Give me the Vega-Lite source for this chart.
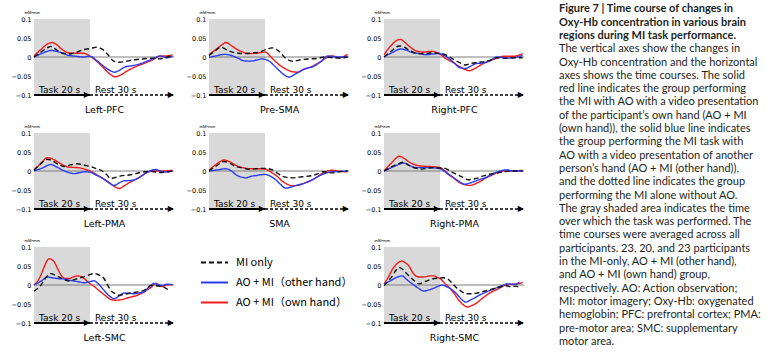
{
  "$schema": "https://vega.github.io/schema/vega-lite/v6.json",
  "padding": {"left": 11, "top": 3, "right": 0, "bottom": 0},
  "background": "white",
  "config": {"view": {"stroke": null}, "font": "DejaVu Sans", "axis": {"labelColor": "#000", "titleColor": "#000"}},
  "datasets": {
    "groups": [
      {"s": "MI", "series": "MI only"},
      {"s": "other", "series": "AO + MI（other hand）"},
      {"s": "own", "series": "AO + MI（own hand）"}
    ],
    "phases": [
      {"phase": "Task 20 s", "start": 0, "end": 20},
      {"phase": "Rest 30 s", "start": 20, "end": 50}
    ],
    "caption": [
      {"line": 1, "text": "Figure 7  |  Time course of changes in"},
      {"line": 2, "text": "Oxy-Hb concentration in various brain"},
      {"line": 3, "text": "regions during MI task performance."},
      {"line": 4, "text": "The vertical axes show the changes in"},
      {"line": 5, "text": "Oxy-Hb concentration and the horizontal"},
      {"line": 6, "text": "axes shows the time courses. The solid"},
      {"line": 7, "text": "red line indicates the group performing"},
      {"line": 8, "text": "the MI with AO with a video presentation"},
      {"line": 9, "text": "of the participant’s own hand (AO + MI"},
      {"line": 10, "text": "(own hand)), the solid blue line indicates"},
      {"line": 11, "text": "the group performing the MI task with"},
      {"line": 12, "text": "AO with a video presentation of another"},
      {"line": 13, "text": "person’s hand (AO + MI (other hand)),"},
      {"line": 14, "text": "and the dotted line indicates the group"},
      {"line": 15, "text": "performing the MI alone without AO."},
      {"line": 16, "text": "The gray shaded area indicates the time"},
      {"line": 17, "text": "over which the task was performed. The"},
      {"line": 18, "text": "time courses were averaged across all"},
      {"line": 19, "text": "participants. 23, 20, and 23 participants"},
      {"line": 20, "text": "in the MI-only, AO + MI (other hand),"},
      {"line": 21, "text": "and AO + MI (own hand) group,"},
      {"line": 22, "text": "respectively. AO: Action observation;"},
      {"line": 23, "text": "MI: motor imagery; Oxy-Hb: oxygenated"},
      {"line": 24, "text": "hemoglobin; PFC: prefrontal cortex; PMA:"},
      {"line": 25, "text": "pre-motor area; SMC: supplementary"},
      {"line": 26, "text": "motor area."}
    ],
    "curves": [
      {"panel":"Left-PFC","s":"own","t":0,"v":0.003},{"panel":"Left-PFC","s":"own","t":2.5,"v":0.02},{"panel":"Left-PFC","s":"own","t":5,"v":0.035},{"panel":"Left-PFC","s":"own","t":6.5,"v":0.038},{"panel":"Left-PFC","s":"own","t":8,"v":0.033},{"panel":"Left-PFC","s":"own","t":10,"v":0.02},{"panel":"Left-PFC","s":"own","t":12.5,"v":0.011},{"panel":"Left-PFC","s":"own","t":15,"v":0.01},{"panel":"Left-PFC","s":"own","t":17.5,"v":0.01},{"panel":"Left-PFC","s":"own","t":20,"v":0.002},{"panel":"Left-PFC","s":"own","t":22.5,"v":-0.012},{"panel":"Left-PFC","s":"own","t":25,"v":-0.03},{"panel":"Left-PFC","s":"own","t":27.5,"v":-0.047},{"panel":"Left-PFC","s":"own","t":29,"v":-0.052},{"panel":"Left-PFC","s":"own","t":31,"v":-0.047},{"panel":"Left-PFC","s":"own","t":33,"v":-0.038},{"panel":"Left-PFC","s":"own","t":35,"v":-0.03},{"panel":"Left-PFC","s":"own","t":37.5,"v":-0.022},{"panel":"Left-PFC","s":"own","t":40,"v":-0.015},{"panel":"Left-PFC","s":"own","t":42.5,"v":-0.007},{"panel":"Left-PFC","s":"own","t":45,"v":0.002},{"panel":"Left-PFC","s":"own","t":47.5,"v":0.003},{"panel":"Left-PFC","s":"own","t":49.5,"v":0.006},
      {"panel":"Left-PFC","s":"other","t":0,"v":0},{"panel":"Left-PFC","s":"other","t":3,"v":0.01},{"panel":"Left-PFC","s":"other","t":6,"v":0.017},{"panel":"Left-PFC","s":"other","t":8,"v":0.015},{"panel":"Left-PFC","s":"other","t":10,"v":0.011},{"panel":"Left-PFC","s":"other","t":12.5,"v":0.004},{"panel":"Left-PFC","s":"other","t":15,"v":0.002},{"panel":"Left-PFC","s":"other","t":17.5,"v":0},{"panel":"Left-PFC","s":"other","t":20,"v":0.002},{"panel":"Left-PFC","s":"other","t":22.5,"v":-0.01},{"panel":"Left-PFC","s":"other","t":25,"v":-0.025},{"panel":"Left-PFC","s":"other","t":27.5,"v":-0.037},{"panel":"Left-PFC","s":"other","t":28.8,"v":-0.04},{"panel":"Left-PFC","s":"other","t":30.5,"v":-0.035},{"panel":"Left-PFC","s":"other","t":32.5,"v":-0.026},{"panel":"Left-PFC","s":"other","t":35,"v":-0.023},{"panel":"Left-PFC","s":"other","t":37.5,"v":-0.019},{"panel":"Left-PFC","s":"other","t":40,"v":-0.012},{"panel":"Left-PFC","s":"other","t":42.5,"v":-0.005},{"panel":"Left-PFC","s":"other","t":45,"v":0.003},{"panel":"Left-PFC","s":"other","t":47.5,"v":-0.002},{"panel":"Left-PFC","s":"other","t":49.5,"v":0.002},
      {"panel":"Left-PFC","s":"MI","t":0,"v":0},{"panel":"Left-PFC","s":"MI","t":2.5,"v":0.013},{"panel":"Left-PFC","s":"MI","t":5,"v":0.025},{"panel":"Left-PFC","s":"MI","t":6,"v":0.028},{"panel":"Left-PFC","s":"MI","t":8,"v":0.019},{"panel":"Left-PFC","s":"MI","t":10,"v":0.01},{"panel":"Left-PFC","s":"MI","t":12.5,"v":0.008},{"panel":"Left-PFC","s":"MI","t":15,"v":0.012},{"panel":"Left-PFC","s":"MI","t":17.5,"v":0.019},{"panel":"Left-PFC","s":"MI","t":20,"v":0.022},{"panel":"Left-PFC","s":"MI","t":22.5,"v":0.026},{"panel":"Left-PFC","s":"MI","t":24.5,"v":0.02},{"panel":"Left-PFC","s":"MI","t":26.5,"v":0.005},{"panel":"Left-PFC","s":"MI","t":28.5,"v":-0.011},{"panel":"Left-PFC","s":"MI","t":30.5,"v":-0.014},{"panel":"Left-PFC","s":"MI","t":32.5,"v":-0.012},{"panel":"Left-PFC","s":"MI","t":35,"v":-0.008},{"panel":"Left-PFC","s":"MI","t":37.5,"v":-0.006},{"panel":"Left-PFC","s":"MI","t":40,"v":-0.004},{"panel":"Left-PFC","s":"MI","t":42.5,"v":-0.003},{"panel":"Left-PFC","s":"MI","t":45,"v":-0.005},{"panel":"Left-PFC","s":"MI","t":47.5,"v":0},{"panel":"Left-PFC","s":"MI","t":49.5,"v":0.004},

      {"panel":"Pre-SMA","s":"own","t":0,"v":0.006},{"panel":"Pre-SMA","s":"own","t":2.5,"v":0.02},{"panel":"Pre-SMA","s":"own","t":5,"v":0.034},{"panel":"Pre-SMA","s":"own","t":6,"v":0.038},{"panel":"Pre-SMA","s":"own","t":8,"v":0.03},{"panel":"Pre-SMA","s":"own","t":10.5,"v":0.018},{"panel":"Pre-SMA","s":"own","t":12.5,"v":0.012},{"panel":"Pre-SMA","s":"own","t":14.5,"v":0.009},{"panel":"Pre-SMA","s":"own","t":17,"v":0.01},{"panel":"Pre-SMA","s":"own","t":20,"v":0.013},{"panel":"Pre-SMA","s":"own","t":22.5,"v":-0.003},{"panel":"Pre-SMA","s":"own","t":25,"v":-0.02},{"panel":"Pre-SMA","s":"own","t":27.5,"v":-0.032},{"panel":"Pre-SMA","s":"own","t":30,"v":-0.039},{"panel":"Pre-SMA","s":"own","t":31.5,"v":-0.04},{"panel":"Pre-SMA","s":"own","t":34,"v":-0.032},{"panel":"Pre-SMA","s":"own","t":37,"v":-0.024},{"panel":"Pre-SMA","s":"own","t":39,"v":-0.016},{"panel":"Pre-SMA","s":"own","t":41.5,"v":-0.004},{"panel":"Pre-SMA","s":"own","t":44,"v":0.003},{"panel":"Pre-SMA","s":"own","t":46.5,"v":-0.002},{"panel":"Pre-SMA","s":"own","t":49.5,"v":0.007},
      {"panel":"Pre-SMA","s":"other","t":0,"v":-0.001},{"panel":"Pre-SMA","s":"other","t":2.5,"v":0.003},{"panel":"Pre-SMA","s":"other","t":5.5,"v":0.007},{"panel":"Pre-SMA","s":"other","t":8,"v":0.004},{"panel":"Pre-SMA","s":"other","t":10,"v":-0.002},{"panel":"Pre-SMA","s":"other","t":12.5,"v":-0.01},{"panel":"Pre-SMA","s":"other","t":14.5,"v":-0.011},{"panel":"Pre-SMA","s":"other","t":17,"v":-0.008},{"panel":"Pre-SMA","s":"other","t":19,"v":-0.005},{"panel":"Pre-SMA","s":"other","t":21.5,"v":-0.011},{"panel":"Pre-SMA","s":"other","t":24,"v":-0.028},{"panel":"Pre-SMA","s":"other","t":26.5,"v":-0.045},{"panel":"Pre-SMA","s":"other","t":28.5,"v":-0.053},{"panel":"Pre-SMA","s":"other","t":31,"v":-0.044},{"panel":"Pre-SMA","s":"other","t":34,"v":-0.032},{"panel":"Pre-SMA","s":"other","t":37.5,"v":-0.024},{"panel":"Pre-SMA","s":"other","t":40,"v":-0.012},{"panel":"Pre-SMA","s":"other","t":42.5,"v":0.003},{"panel":"Pre-SMA","s":"other","t":45,"v":0},{"panel":"Pre-SMA","s":"other","t":47.5,"v":0},{"panel":"Pre-SMA","s":"other","t":49.5,"v":0.002},
      {"panel":"Pre-SMA","s":"MI","t":0,"v":0.004},{"panel":"Pre-SMA","s":"MI","t":2.5,"v":0.018},{"panel":"Pre-SMA","s":"MI","t":4.2,"v":0.026},{"panel":"Pre-SMA","s":"MI","t":6,"v":0.02},{"panel":"Pre-SMA","s":"MI","t":8.3,"v":0.013},{"panel":"Pre-SMA","s":"MI","t":10.5,"v":0.01},{"panel":"Pre-SMA","s":"MI","t":13,"v":0.009},{"panel":"Pre-SMA","s":"MI","t":16,"v":0.011},{"panel":"Pre-SMA","s":"MI","t":18,"v":0.013},{"panel":"Pre-SMA","s":"MI","t":20.5,"v":0.02},{"panel":"Pre-SMA","s":"MI","t":22.5,"v":0.024},{"panel":"Pre-SMA","s":"MI","t":25,"v":0.015},{"panel":"Pre-SMA","s":"MI","t":27.5,"v":-0.004},{"panel":"Pre-SMA","s":"MI","t":30,"v":-0.011},{"panel":"Pre-SMA","s":"MI","t":33,"v":-0.007},{"panel":"Pre-SMA","s":"MI","t":36,"v":-0.005},{"panel":"Pre-SMA","s":"MI","t":38.5,"v":-0.004},{"panel":"Pre-SMA","s":"MI","t":41.5,"v":0},{"panel":"Pre-SMA","s":"MI","t":44,"v":-0.002},{"panel":"Pre-SMA","s":"MI","t":46.5,"v":-0.003},{"panel":"Pre-SMA","s":"MI","t":49.5,"v":0},

      {"panel":"Right-PFC","s":"own","t":0,"v":0.006},{"panel":"Right-PFC","s":"own","t":2.5,"v":0.03},{"panel":"Right-PFC","s":"own","t":5,"v":0.045},{"panel":"Right-PFC","s":"own","t":6,"v":0.046},{"panel":"Right-PFC","s":"own","t":7.5,"v":0.038},{"panel":"Right-PFC","s":"own","t":9.5,"v":0.025},{"panel":"Right-PFC","s":"own","t":11.5,"v":0.016},{"panel":"Right-PFC","s":"own","t":14,"v":0.013},{"panel":"Right-PFC","s":"own","t":17,"v":0.015},{"panel":"Right-PFC","s":"own","t":20,"v":0.007},{"panel":"Right-PFC","s":"own","t":22,"v":-0.004},{"panel":"Right-PFC","s":"own","t":24.5,"v":-0.014},{"panel":"Right-PFC","s":"own","t":27,"v":-0.025},{"panel":"Right-PFC","s":"own","t":29,"v":-0.033},{"panel":"Right-PFC","s":"own","t":30.5,"v":-0.036},{"panel":"Right-PFC","s":"own","t":32.5,"v":-0.03},{"panel":"Right-PFC","s":"own","t":35,"v":-0.019},{"panel":"Right-PFC","s":"own","t":37.5,"v":-0.011},{"panel":"Right-PFC","s":"own","t":40,"v":-0.004},{"panel":"Right-PFC","s":"own","t":43,"v":0.002},{"panel":"Right-PFC","s":"own","t":46.5,"v":0.002},{"panel":"Right-PFC","s":"own","t":49.5,"v":0.009},
      {"panel":"Right-PFC","s":"other","t":0,"v":0},{"panel":"Right-PFC","s":"other","t":3,"v":0.012},{"panel":"Right-PFC","s":"other","t":6,"v":0.021},{"panel":"Right-PFC","s":"other","t":8,"v":0.018},{"panel":"Right-PFC","s":"other","t":10,"v":0.012},{"panel":"Right-PFC","s":"other","t":12.5,"v":0.009},{"panel":"Right-PFC","s":"other","t":15,"v":0.006},{"panel":"Right-PFC","s":"other","t":17.5,"v":0.008},{"panel":"Right-PFC","s":"other","t":19.5,"v":0.009},{"panel":"Right-PFC","s":"other","t":23,"v":-0.003},{"panel":"Right-PFC","s":"other","t":25,"v":-0.015},{"panel":"Right-PFC","s":"other","t":27,"v":-0.028},{"panel":"Right-PFC","s":"other","t":29,"v":-0.03},{"panel":"Right-PFC","s":"other","t":31,"v":-0.024},{"panel":"Right-PFC","s":"other","t":33,"v":-0.017},{"panel":"Right-PFC","s":"other","t":35,"v":-0.016},{"panel":"Right-PFC","s":"other","t":37.5,"v":-0.011},{"panel":"Right-PFC","s":"other","t":40.5,"v":0},{"panel":"Right-PFC","s":"other","t":44,"v":-0.003},{"panel":"Right-PFC","s":"other","t":47,"v":-0.001},{"panel":"Right-PFC","s":"other","t":49.5,"v":0.004},
      {"panel":"Right-PFC","s":"MI","t":0,"v":0},{"panel":"Right-PFC","s":"MI","t":2.5,"v":0.015},{"panel":"Right-PFC","s":"MI","t":5.5,"v":0.029},{"panel":"Right-PFC","s":"MI","t":7.5,"v":0.025},{"panel":"Right-PFC","s":"MI","t":9,"v":0.018},{"panel":"Right-PFC","s":"MI","t":12,"v":0.009},{"panel":"Right-PFC","s":"MI","t":14.5,"v":0.009},{"panel":"Right-PFC","s":"MI","t":17,"v":0.011},{"panel":"Right-PFC","s":"MI","t":20.5,"v":0.009},{"panel":"Right-PFC","s":"MI","t":22.5,"v":0.004},{"panel":"Right-PFC","s":"MI","t":24.5,"v":-0.005},{"panel":"Right-PFC","s":"MI","t":27,"v":-0.015},{"panel":"Right-PFC","s":"MI","t":29,"v":-0.021},{"panel":"Right-PFC","s":"MI","t":31,"v":-0.017},{"panel":"Right-PFC","s":"MI","t":33.5,"v":-0.014},{"panel":"Right-PFC","s":"MI","t":36,"v":-0.012},{"panel":"Right-PFC","s":"MI","t":38,"v":-0.008},{"panel":"Right-PFC","s":"MI","t":40,"v":-0.002},{"panel":"Right-PFC","s":"MI","t":43,"v":-0.003},{"panel":"Right-PFC","s":"MI","t":46,"v":-0.002},{"panel":"Right-PFC","s":"MI","t":49.5,"v":-0.002},

      {"panel":"Left-PMA","s":"own","t":0,"v":0.002},{"panel":"Left-PMA","s":"own","t":2.5,"v":0.02},{"panel":"Left-PMA","s":"own","t":4.8,"v":0.035},{"panel":"Left-PMA","s":"own","t":6.5,"v":0.032},{"panel":"Left-PMA","s":"own","t":8.5,"v":0.024},{"panel":"Left-PMA","s":"own","t":10.5,"v":0.015},{"panel":"Left-PMA","s":"own","t":12.5,"v":0.01},{"panel":"Left-PMA","s":"own","t":15.5,"v":0.009},{"panel":"Left-PMA","s":"own","t":18,"v":0.005},{"panel":"Left-PMA","s":"own","t":20,"v":0},{"panel":"Left-PMA","s":"own","t":22,"v":-0.008},{"panel":"Left-PMA","s":"own","t":24,"v":-0.017},{"panel":"Left-PMA","s":"own","t":26,"v":-0.026},{"panel":"Left-PMA","s":"own","t":28,"v":-0.037},{"panel":"Left-PMA","s":"own","t":30.4,"v":-0.046},{"panel":"Left-PMA","s":"own","t":32,"v":-0.04},{"panel":"Left-PMA","s":"own","t":33.5,"v":-0.033},{"panel":"Left-PMA","s":"own","t":35.5,"v":-0.025},{"panel":"Left-PMA","s":"own","t":37,"v":-0.019},{"panel":"Left-PMA","s":"own","t":39,"v":-0.01},{"panel":"Left-PMA","s":"own","t":40.5,"v":-0.003},{"panel":"Left-PMA","s":"own","t":43,"v":0},{"panel":"Left-PMA","s":"own","t":46,"v":0},{"panel":"Left-PMA","s":"own","t":49.5,"v":0.002},
      {"panel":"Left-PMA","s":"other","t":0,"v":0},{"panel":"Left-PMA","s":"other","t":3,"v":0.008},{"panel":"Left-PMA","s":"other","t":6,"v":0.017},{"panel":"Left-PMA","s":"other","t":8,"v":0.011},{"panel":"Left-PMA","s":"other","t":9.5,"v":0.005},{"panel":"Left-PMA","s":"other","t":12,"v":-0.003},{"panel":"Left-PMA","s":"other","t":14.3,"v":-0.007},{"panel":"Left-PMA","s":"other","t":16.5,"v":-0.004},{"panel":"Left-PMA","s":"other","t":18.5,"v":-0.002},{"panel":"Left-PMA","s":"other","t":20,"v":-0.003},{"panel":"Left-PMA","s":"other","t":22,"v":-0.01},{"panel":"Left-PMA","s":"other","t":24,"v":-0.017},{"panel":"Left-PMA","s":"other","t":26.5,"v":-0.03},{"panel":"Left-PMA","s":"other","t":28.6,"v":-0.038},{"panel":"Left-PMA","s":"other","t":30.5,"v":-0.031},{"panel":"Left-PMA","s":"other","t":32,"v":-0.026},{"panel":"Left-PMA","s":"other","t":34.5,"v":-0.025},{"panel":"Left-PMA","s":"other","t":37,"v":-0.02},{"panel":"Left-PMA","s":"other","t":39,"v":-0.01},{"panel":"Left-PMA","s":"other","t":40.5,"v":-0.003},{"panel":"Left-PMA","s":"other","t":43.5,"v":0.004},{"panel":"Left-PMA","s":"other","t":46.4,"v":-0.003},{"panel":"Left-PMA","s":"other","t":49.5,"v":0},
      {"panel":"Left-PMA","s":"MI","t":0,"v":0.002},{"panel":"Left-PMA","s":"MI","t":2.5,"v":0.02},{"panel":"Left-PMA","s":"MI","t":4.8,"v":0.031},{"panel":"Left-PMA","s":"MI","t":7,"v":0.025},{"panel":"Left-PMA","s":"MI","t":9,"v":0.016},{"panel":"Left-PMA","s":"MI","t":10.7,"v":0.012},{"panel":"Left-PMA","s":"MI","t":13,"v":0.016},{"panel":"Left-PMA","s":"MI","t":15.5,"v":0.019},{"panel":"Left-PMA","s":"MI","t":18,"v":0.015},{"panel":"Left-PMA","s":"MI","t":20,"v":0.012},{"panel":"Left-PMA","s":"MI","t":22,"v":0.007},{"panel":"Left-PMA","s":"MI","t":24,"v":0.002},{"panel":"Left-PMA","s":"MI","t":26,"v":-0.01},{"panel":"Left-PMA","s":"MI","t":27.4,"v":-0.02},{"panel":"Left-PMA","s":"MI","t":29,"v":-0.017},{"panel":"Left-PMA","s":"MI","t":31,"v":-0.013},{"panel":"Left-PMA","s":"MI","t":34.5,"v":-0.01},{"panel":"Left-PMA","s":"MI","t":38,"v":-0.004},{"panel":"Left-PMA","s":"MI","t":41.7,"v":-0.001},{"panel":"Left-PMA","s":"MI","t":45,"v":-0.004},{"panel":"Left-PMA","s":"MI","t":49.5,"v":0},

      {"panel":"SMA","s":"own","t":0,"v":0.002},{"panel":"SMA","s":"own","t":2.5,"v":0.017},{"panel":"SMA","s":"own","t":5.4,"v":0.029},{"panel":"SMA","s":"own","t":7.5,"v":0.024},{"panel":"SMA","s":"own","t":9.5,"v":0.015},{"panel":"SMA","s":"own","t":12,"v":0.009},{"panel":"SMA","s":"own","t":14.3,"v":0.006},{"panel":"SMA","s":"own","t":17,"v":0.006},{"panel":"SMA","s":"own","t":19,"v":0.006},{"panel":"SMA","s":"own","t":20.5,"v":0.004},{"panel":"SMA","s":"own","t":22.6,"v":-0.005},{"panel":"SMA","s":"own","t":24.5,"v":-0.015},{"panel":"SMA","s":"own","t":26.2,"v":-0.027},{"panel":"SMA","s":"own","t":28,"v":-0.035},{"panel":"SMA","s":"own","t":29.8,"v":-0.039},{"panel":"SMA","s":"own","t":31.5,"v":-0.038},{"panel":"SMA","s":"own","t":33.3,"v":-0.034},{"panel":"SMA","s":"own","t":35,"v":-0.029},{"panel":"SMA","s":"own","t":37,"v":-0.023},{"panel":"SMA","s":"own","t":39,"v":-0.014},{"panel":"SMA","s":"own","t":40.5,"v":-0.006},{"panel":"SMA","s":"own","t":42.5,"v":0},{"panel":"SMA","s":"own","t":44,"v":0.002},{"panel":"SMA","s":"own","t":46.5,"v":-0.001},{"panel":"SMA","s":"own","t":49.5,"v":-0.002},
      {"panel":"SMA","s":"other","t":0,"v":0},{"panel":"SMA","s":"other","t":3,"v":0.003},{"panel":"SMA","s":"other","t":6,"v":0.006},{"panel":"SMA","s":"other","t":8,"v":0},{"panel":"SMA","s":"other","t":9.5,"v":-0.009},{"panel":"SMA","s":"other","t":11.5,"v":-0.016},{"panel":"SMA","s":"other","t":13.1,"v":-0.018},{"panel":"SMA","s":"other","t":15,"v":-0.014},{"panel":"SMA","s":"other","t":16.7,"v":-0.012},{"panel":"SMA","s":"other","t":18.5,"v":-0.01},{"panel":"SMA","s":"other","t":20,"v":-0.009},{"panel":"SMA","s":"other","t":22,"v":-0.014},{"panel":"SMA","s":"other","t":23.8,"v":-0.023},{"panel":"SMA","s":"other","t":25.5,"v":-0.035},{"panel":"SMA","s":"other","t":27.4,"v":-0.045},{"panel":"SMA","s":"other","t":29,"v":-0.043},{"panel":"SMA","s":"other","t":30.5,"v":-0.039},{"panel":"SMA","s":"other","t":33.3,"v":-0.034},{"panel":"SMA","s":"other","t":36.9,"v":-0.023},{"panel":"SMA","s":"other","t":38.5,"v":-0.016},{"panel":"SMA","s":"other","t":40.5,"v":-0.009},{"panel":"SMA","s":"other","t":44,"v":-0.002},{"panel":"SMA","s":"other","t":46.5,"v":-0.001},{"panel":"SMA","s":"other","t":49.5,"v":0},
      {"panel":"SMA","s":"MI","t":0,"v":0},{"panel":"SMA","s":"MI","t":2.5,"v":0.013},{"panel":"SMA","s":"MI","t":5.4,"v":0.025},{"panel":"SMA","s":"MI","t":7.5,"v":0.02},{"panel":"SMA","s":"MI","t":9.5,"v":0.012},{"panel":"SMA","s":"MI","t":12,"v":0.008},{"panel":"SMA","s":"MI","t":14.3,"v":0.005},{"panel":"SMA","s":"MI","t":17,"v":0.006},{"panel":"SMA","s":"MI","t":20,"v":0.007},{"panel":"SMA","s":"MI","t":22.6,"v":0.003},{"panel":"SMA","s":"MI","t":24.5,"v":-0.006},{"panel":"SMA","s":"MI","t":26.2,"v":-0.014},{"panel":"SMA","s":"MI","t":28,"v":-0.017},{"panel":"SMA","s":"MI","t":29.8,"v":-0.018},{"panel":"SMA","s":"MI","t":33.3,"v":-0.015},{"panel":"SMA","s":"MI","t":36.9,"v":-0.012},{"panel":"SMA","s":"MI","t":39,"v":-0.007},{"panel":"SMA","s":"MI","t":40.5,"v":-0.002},{"panel":"SMA","s":"MI","t":42,"v":-0.003},{"panel":"SMA","s":"MI","t":44,"v":-0.005},{"panel":"SMA","s":"MI","t":46.5,"v":-0.002},{"panel":"SMA","s":"MI","t":49.5,"v":0},

      {"panel":"Right-PMA","s":"own","t":0,"v":0},{"panel":"Right-PMA","s":"own","t":2.5,"v":0.02},{"panel":"Right-PMA","s":"own","t":4.5,"v":0.035},{"panel":"Right-PMA","s":"own","t":5.4,"v":0.039},{"panel":"Right-PMA","s":"own","t":7,"v":0.034},{"panel":"Right-PMA","s":"own","t":8.7,"v":0.025},{"panel":"Right-PMA","s":"own","t":10.5,"v":0.018},{"panel":"Right-PMA","s":"own","t":12.3,"v":0.014},{"panel":"Right-PMA","s":"own","t":15.8,"v":0.012},{"panel":"Right-PMA","s":"own","t":18,"v":0.011},{"panel":"Right-PMA","s":"own","t":20,"v":0.009},{"panel":"Right-PMA","s":"own","t":21.5,"v":0.002},{"panel":"Right-PMA","s":"own","t":23,"v":-0.009},{"panel":"Right-PMA","s":"own","t":25,"v":-0.019},{"panel":"Right-PMA","s":"own","t":26.6,"v":-0.029},{"panel":"Right-PMA","s":"own","t":28.5,"v":-0.035},{"panel":"Right-PMA","s":"own","t":30.7,"v":-0.038},{"panel":"Right-PMA","s":"own","t":32.5,"v":-0.034},{"panel":"Right-PMA","s":"own","t":34.9,"v":-0.025},{"panel":"Right-PMA","s":"own","t":36.5,"v":-0.018},{"panel":"Right-PMA","s":"own","t":38.5,"v":-0.011},{"panel":"Right-PMA","s":"own","t":40.5,"v":-0.004},{"panel":"Right-PMA","s":"own","t":42,"v":0},{"panel":"Right-PMA","s":"own","t":45.6,"v":0},{"panel":"Right-PMA","s":"own","t":49.5,"v":0.002},
      {"panel":"Right-PMA","s":"other","t":0,"v":0},{"panel":"Right-PMA","s":"other","t":3,"v":0.01},{"panel":"Right-PMA","s":"other","t":5.5,"v":0.018},{"panel":"Right-PMA","s":"other","t":6.9,"v":0.021},{"panel":"Right-PMA","s":"other","t":9,"v":0.015},{"panel":"Right-PMA","s":"other","t":11.1,"v":0.009},{"panel":"Right-PMA","s":"other","t":13.5,"v":0.009},{"panel":"Right-PMA","s":"other","t":15.8,"v":0.009},{"panel":"Right-PMA","s":"other","t":18,"v":0.008},{"panel":"Right-PMA","s":"other","t":20,"v":0.006},{"panel":"Right-PMA","s":"other","t":22,"v":-0.003},{"panel":"Right-PMA","s":"other","t":24.2,"v":-0.014},{"panel":"Right-PMA","s":"other","t":26.5,"v":-0.026},{"panel":"Right-PMA","s":"other","t":28.9,"v":-0.035},{"panel":"Right-PMA","s":"other","t":30.5,"v":-0.032},{"panel":"Right-PMA","s":"other","t":32.5,"v":-0.027},{"panel":"Right-PMA","s":"other","t":34,"v":-0.023},{"panel":"Right-PMA","s":"other","t":36,"v":-0.018},{"panel":"Right-PMA","s":"other","t":38,"v":-0.011},{"panel":"Right-PMA","s":"other","t":39.6,"v":-0.005},{"panel":"Right-PMA","s":"other","t":41.5,"v":0},{"panel":"Right-PMA","s":"other","t":43.8,"v":0.003},{"panel":"Right-PMA","s":"other","t":46,"v":0},{"panel":"Right-PMA","s":"other","t":49.5,"v":0},
      {"panel":"Right-PMA","s":"MI","t":0,"v":0},{"panel":"Right-PMA","s":"MI","t":3,"v":0.012},{"panel":"Right-PMA","s":"MI","t":5.5,"v":0.02},{"panel":"Right-PMA","s":"MI","t":6.9,"v":0.023},{"panel":"Right-PMA","s":"MI","t":8.5,"v":0.017},{"panel":"Right-PMA","s":"MI","t":9.9,"v":0.011},{"panel":"Right-PMA","s":"MI","t":11.7,"v":0.007},{"panel":"Right-PMA","s":"MI","t":13.5,"v":0.005},{"panel":"Right-PMA","s":"MI","t":15.5,"v":0.007},{"panel":"Right-PMA","s":"MI","t":17.6,"v":0.009},{"panel":"Right-PMA","s":"MI","t":19.5,"v":0.008},{"panel":"Right-PMA","s":"MI","t":21.8,"v":0.007},{"panel":"Right-PMA","s":"MI","t":23.5,"v":0},{"panel":"Right-PMA","s":"MI","t":25.4,"v":-0.007},{"panel":"Right-PMA","s":"MI","t":28,"v":-0.016},{"panel":"Right-PMA","s":"MI","t":30.1,"v":-0.023},{"panel":"Right-PMA","s":"MI","t":32,"v":-0.021},{"panel":"Right-PMA","s":"MI","t":33.7,"v":-0.018},{"panel":"Right-PMA","s":"MI","t":35.5,"v":-0.013},{"panel":"Right-PMA","s":"MI","t":37.3,"v":-0.009},{"panel":"Right-PMA","s":"MI","t":40.8,"v":-0.005},{"panel":"Right-PMA","s":"MI","t":43,"v":-0.002},{"panel":"Right-PMA","s":"MI","t":45.6,"v":0},{"panel":"Right-PMA","s":"MI","t":49.5,"v":0},

      {"panel":"Left-SMC","s":"own","t":0,"v":0},{"panel":"Left-SMC","s":"own","t":1.5,"v":0.012},{"panel":"Left-SMC","s":"own","t":2.4,"v":0.025},{"panel":"Left-SMC","s":"own","t":3.5,"v":0.045},{"panel":"Left-SMC","s":"own","t":4.5,"v":0.062},{"panel":"Left-SMC","s":"own","t":5.4,"v":0.069},{"panel":"Left-SMC","s":"own","t":6.3,"v":0.067},{"panel":"Left-SMC","s":"own","t":7.2,"v":0.061},{"panel":"Left-SMC","s":"own","t":8.5,"v":0.042},{"panel":"Left-SMC","s":"own","t":10.2,"v":0.021},{"panel":"Left-SMC","s":"own","t":11.5,"v":0.017},{"panel":"Left-SMC","s":"own","t":12.5,"v":0.017},{"panel":"Left-SMC","s":"own","t":14,"v":0.021},{"panel":"Left-SMC","s":"own","t":15.5,"v":0.024},{"panel":"Left-SMC","s":"own","t":16.8,"v":0.022},{"panel":"Left-SMC","s":"own","t":17.9,"v":0.017},{"panel":"Left-SMC","s":"own","t":19,"v":0.01},{"panel":"Left-SMC","s":"own","t":20,"v":0.004},{"panel":"Left-SMC","s":"own","t":22,"v":-0.007},{"panel":"Left-SMC","s":"own","t":23.8,"v":-0.018},{"panel":"Left-SMC","s":"own","t":25.5,"v":-0.028},{"panel":"Left-SMC","s":"own","t":27.4,"v":-0.038},{"panel":"Left-SMC","s":"own","t":29,"v":-0.04},{"panel":"Left-SMC","s":"own","t":31,"v":-0.039},{"panel":"Left-SMC","s":"own","t":33,"v":-0.035},{"panel":"Left-SMC","s":"own","t":34.5,"v":-0.032},{"panel":"Left-SMC","s":"own","t":36.5,"v":-0.028},{"panel":"Left-SMC","s":"own","t":38.1,"v":-0.023},{"panel":"Left-SMC","s":"own","t":40,"v":-0.015},{"panel":"Left-SMC","s":"own","t":41.7,"v":-0.007},{"panel":"Left-SMC","s":"own","t":43.5,"v":0.004},{"panel":"Left-SMC","s":"own","t":45.8,"v":-0.004},{"panel":"Left-SMC","s":"own","t":47.5,"v":0},{"panel":"Left-SMC","s":"own","t":49.5,"v":0.001},
      {"panel":"Left-SMC","s":"other","t":0,"v":0},{"panel":"Left-SMC","s":"other","t":2.5,"v":0.01},{"panel":"Left-SMC","s":"other","t":4.8,"v":0.021},{"panel":"Left-SMC","s":"other","t":6.5,"v":0.019},{"panel":"Left-SMC","s":"other","t":8.4,"v":0.017},{"panel":"Left-SMC","s":"other","t":10.5,"v":0.016},{"panel":"Left-SMC","s":"other","t":13.1,"v":0.012},{"panel":"Left-SMC","s":"other","t":15.5,"v":0.009},{"panel":"Left-SMC","s":"other","t":17.9,"v":0.006},{"panel":"Left-SMC","s":"other","t":19.5,"v":0.008},{"panel":"Left-SMC","s":"other","t":21.4,"v":0.011},{"panel":"Left-SMC","s":"other","t":23,"v":0.003},{"panel":"Left-SMC","s":"other","t":25,"v":-0.014},{"panel":"Left-SMC","s":"other","t":26.8,"v":-0.028},{"panel":"Left-SMC","s":"other","t":28.6,"v":-0.036},{"panel":"Left-SMC","s":"other","t":30.5,"v":-0.028},{"panel":"Left-SMC","s":"other","t":32.2,"v":-0.021},{"panel":"Left-SMC","s":"other","t":34,"v":-0.022},{"panel":"Left-SMC","s":"other","t":35.7,"v":-0.023},{"panel":"Left-SMC","s":"other","t":37.5,"v":-0.021},{"panel":"Left-SMC","s":"other","t":39.3,"v":-0.018},{"panel":"Left-SMC","s":"other","t":41,"v":-0.006},{"panel":"Left-SMC","s":"other","t":42.9,"v":0.004},{"panel":"Left-SMC","s":"other","t":44.5,"v":0},{"panel":"Left-SMC","s":"other","t":45.8,"v":-0.001},{"panel":"Left-SMC","s":"other","t":47.5,"v":0.002},{"panel":"Left-SMC","s":"other","t":49.5,"v":0.001},
      {"panel":"Left-SMC","s":"MI","t":0,"v":-0.016},{"panel":"Left-SMC","s":"MI","t":1.2,"v":-0.01},{"panel":"Left-SMC","s":"MI","t":2.4,"v":-0.001},{"panel":"Left-SMC","s":"MI","t":3.8,"v":0.015},{"panel":"Left-SMC","s":"MI","t":5,"v":0.025},{"panel":"Left-SMC","s":"MI","t":6,"v":0.03},{"panel":"Left-SMC","s":"MI","t":7.5,"v":0.026},{"panel":"Left-SMC","s":"MI","t":9,"v":0.021},{"panel":"Left-SMC","s":"MI","t":10.5,"v":0.015},{"panel":"Left-SMC","s":"MI","t":12,"v":0.011},{"panel":"Left-SMC","s":"MI","t":13.5,"v":0.012},{"panel":"Left-SMC","s":"MI","t":15.5,"v":0.017},{"panel":"Left-SMC","s":"MI","t":17.5,"v":0.021},{"panel":"Left-SMC","s":"MI","t":19,"v":0.025},{"panel":"Left-SMC","s":"MI","t":21.4,"v":0.03},{"panel":"Left-SMC","s":"MI","t":23,"v":0.027},{"panel":"Left-SMC","s":"MI","t":25,"v":0.017},{"panel":"Left-SMC","s":"MI","t":26,"v":0.004},{"panel":"Left-SMC","s":"MI","t":27.4,"v":-0.014},{"panel":"Left-SMC","s":"MI","t":29,"v":-0.023},{"panel":"Left-SMC","s":"MI","t":30.4,"v":-0.027},{"panel":"Left-SMC","s":"MI","t":32,"v":-0.025},{"panel":"Left-SMC","s":"MI","t":34.5,"v":-0.021},{"panel":"Left-SMC","s":"MI","t":37,"v":-0.018},{"panel":"Left-SMC","s":"MI","t":39.3,"v":-0.014},{"panel":"Left-SMC","s":"MI","t":40.5,"v":-0.008},{"panel":"Left-SMC","s":"MI","t":41.7,"v":-0.001},{"panel":"Left-SMC","s":"MI","t":43.5,"v":-0.002},{"panel":"Left-SMC","s":"MI","t":45.2,"v":-0.004},{"panel":"Left-SMC","s":"MI","t":47,"v":-0.008},{"panel":"Left-SMC","s":"MI","t":48.5,"v":-0.016},

      {"panel":"Right-SMC","s":"own","t":0,"v":0.003},{"panel":"Right-SMC","s":"own","t":1.5,"v":0.02},{"panel":"Right-SMC","s":"own","t":3,"v":0.041},{"panel":"Right-SMC","s":"own","t":4.8,"v":0.057},{"panel":"Right-SMC","s":"own","t":6.5,"v":0.063},{"panel":"Right-SMC","s":"own","t":7.7,"v":0.058},{"panel":"Right-SMC","s":"own","t":8.9,"v":0.05},{"panel":"Right-SMC","s":"own","t":10,"v":0.036},{"panel":"Right-SMC","s":"own","t":11.3,"v":0.024},{"panel":"Right-SMC","s":"own","t":13,"v":0.021},{"panel":"Right-SMC","s":"own","t":14.9,"v":0.022},{"panel":"Right-SMC","s":"own","t":16.5,"v":0.024},{"panel":"Right-SMC","s":"own","t":17.9,"v":0.024},{"panel":"Right-SMC","s":"own","t":19,"v":0.02},{"panel":"Right-SMC","s":"own","t":20.2,"v":0.016},{"panel":"Right-SMC","s":"own","t":21.5,"v":0.006},{"panel":"Right-SMC","s":"own","t":23.2,"v":-0.006},{"panel":"Right-SMC","s":"own","t":25,"v":-0.022},{"panel":"Right-SMC","s":"own","t":26.8,"v":-0.041},{"panel":"Right-SMC","s":"own","t":28.5,"v":-0.053},{"panel":"Right-SMC","s":"own","t":29.8,"v":-0.058},{"panel":"Right-SMC","s":"own","t":31,"v":-0.055},{"panel":"Right-SMC","s":"own","t":32.8,"v":-0.049},{"panel":"Right-SMC","s":"own","t":34.5,"v":-0.039},{"panel":"Right-SMC","s":"own","t":36.4,"v":-0.028},{"panel":"Right-SMC","s":"own","t":38,"v":-0.02},{"panel":"Right-SMC","s":"own","t":40,"v":-0.013},{"panel":"Right-SMC","s":"own","t":42,"v":-0.005},{"panel":"Right-SMC","s":"own","t":43.6,"v":0.001},{"panel":"Right-SMC","s":"own","t":46,"v":0.002},{"panel":"Right-SMC","s":"own","t":48.4,"v":0.004},{"panel":"Right-SMC","s":"own","t":49.5,"v":0.007},
      {"panel":"Right-SMC","s":"other","t":0,"v":0.003},{"panel":"Right-SMC","s":"other","t":2.5,"v":0.012},{"panel":"Right-SMC","s":"other","t":4.5,"v":0.02},{"panel":"Right-SMC","s":"other","t":6.5,"v":0.024},{"panel":"Right-SMC","s":"other","t":8,"v":0.015},{"panel":"Right-SMC","s":"other","t":10.1,"v":0.003},{"panel":"Right-SMC","s":"other","t":12,"v":-0.007},{"panel":"Right-SMC","s":"other","t":14.3,"v":-0.016},{"panel":"Right-SMC","s":"other","t":16,"v":-0.013},{"panel":"Right-SMC","s":"other","t":17.9,"v":-0.008},{"panel":"Right-SMC","s":"other","t":19.5,"v":-0.003},{"panel":"Right-SMC","s":"other","t":20.8,"v":0},{"panel":"Right-SMC","s":"other","t":22.5,"v":-0.005},{"panel":"Right-SMC","s":"other","t":24.4,"v":-0.013},{"panel":"Right-SMC","s":"other","t":26.5,"v":-0.028},{"panel":"Right-SMC","s":"other","t":28,"v":-0.04},{"panel":"Right-SMC","s":"other","t":29.2,"v":-0.045},{"panel":"Right-SMC","s":"other","t":31,"v":-0.039},{"panel":"Right-SMC","s":"other","t":32.8,"v":-0.032},{"panel":"Right-SMC","s":"other","t":34.5,"v":-0.025},{"panel":"Right-SMC","s":"other","t":36.4,"v":-0.019},{"panel":"Right-SMC","s":"other","t":38,"v":-0.014},{"panel":"Right-SMC","s":"other","t":40,"v":-0.008},{"panel":"Right-SMC","s":"other","t":42,"v":-0.002},{"panel":"Right-SMC","s":"other","t":44.2,"v":0.003},{"panel":"Right-SMC","s":"other","t":46.5,"v":0.002},{"panel":"Right-SMC","s":"other","t":48.4,"v":0.007},
      {"panel":"Right-SMC","s":"MI","t":0,"v":-0.002},{"panel":"Right-SMC","s":"MI","t":1.5,"v":0.01},{"panel":"Right-SMC","s":"MI","t":3,"v":0.024},{"panel":"Right-SMC","s":"MI","t":4.2,"v":0.038},{"panel":"Right-SMC","s":"MI","t":5.4,"v":0.046},{"panel":"Right-SMC","s":"MI","t":6.5,"v":0.042},{"panel":"Right-SMC","s":"MI","t":7.7,"v":0.033},{"panel":"Right-SMC","s":"MI","t":9.5,"v":0.02},{"panel":"Right-SMC","s":"MI","t":11,"v":0.01},{"panel":"Right-SMC","s":"MI","t":12.5,"v":0.003},{"panel":"Right-SMC","s":"MI","t":14.3,"v":0.008},{"panel":"Right-SMC","s":"MI","t":16.1,"v":0.013},{"panel":"Right-SMC","s":"MI","t":18,"v":0.017},{"panel":"Right-SMC","s":"MI","t":19.7,"v":0.018},{"panel":"Right-SMC","s":"MI","t":21,"v":0.019},{"panel":"Right-SMC","s":"MI","t":22.7,"v":0.016},{"panel":"Right-SMC","s":"MI","t":24.2,"v":0.006},{"panel":"Right-SMC","s":"MI","t":25.7,"v":-0.006},{"panel":"Right-SMC","s":"MI","t":27.5,"v":-0.016},{"panel":"Right-SMC","s":"MI","t":29.2,"v":-0.023},{"panel":"Right-SMC","s":"MI","t":31,"v":-0.023},{"panel":"Right-SMC","s":"MI","t":32.8,"v":-0.022},{"panel":"Right-SMC","s":"MI","t":34.5,"v":-0.019},{"panel":"Right-SMC","s":"MI","t":36.4,"v":-0.015},{"panel":"Right-SMC","s":"MI","t":38,"v":-0.012},{"panel":"Right-SMC","s":"MI","t":40,"v":-0.008},{"panel":"Right-SMC","s":"MI","t":42,"v":-0.004},{"panel":"Right-SMC","s":"MI","t":43.6,"v":-0.002},{"panel":"Right-SMC","s":"MI","t":45.5,"v":-0.005},{"panel":"Right-SMC","s":"MI","t":47,"v":-0.003},{"panel":"Right-SMC","s":"MI","t":48.4,"v":-0.006}
    ]
  },
  "columns": 4,
  "align": "each",
  "bounds": "flush",
  "spacing": {"row": 38, "column": 35},
  "concat": [
    {"width": 140, "height": 76, "layer": [
      {"data": {"name": "phases"}, "transform": [{"filter": "datum.phase === 'Task 20 s'"}], "mark": {"type": "rect", "color": "#d9d9d9"}, "encoding": {"x": {"field": "start", "type": "quantitative", "scale": {"domain": [0, 50], "nice": false, "zero": false}}, "x2": {"field": "end"}}},
      {"data": {"values": [{"level": 0}]}, "mark": {"type": "rule", "color": "#7f7f7f", "strokeWidth": 1.2}, "encoding": {"y": {"field": "level", "type": "quantitative"}}},
      {"data": {"name": "curves"}, "transform": [{"filter": "datum.panel === 'Left-PFC'"}, {"lookup": "s", "from": {"data": {"name": "groups"}, "key": "s", "fields": ["series"]}}], "mark": {"type": "line", "interpolate": "monotone", "strokeWidth": 1.4},
       "encoding": {"x": {"field": "t", "type": "quantitative", "axis": {"labels": false, "ticks": false, "domain": false, "grid": false, "title": "Left-PFC", "titleFontSize": 9.5, "titleFontWeight": "normal", "titlePadding": 9}},
        "y": {"field": "v", "type": "quantitative", "scale": {"domain": [-0.1, 0.1], "nice": false, "zero": false}, "axis": {"values": [-0.1, -0.05, 0, 0.05, 0.1], "tickCount": 5, "labelOverlap": false, "format": "~g", "labelFontSize": 6.5, "ticks": false, "labelPadding": 3, "grid": false, "domainColor": "#222", "title": "mM•mm", "titleFont": "Liberation Sans", "titleAngle": 0, "titleAlign": "left", "titleBaseline": "bottom", "titleX": -10, "titleY": -5, "titleFontSize": 4.2, "titleFontWeight": "normal"}},
        "color": {"field": "series", "type": "nominal", "scale": {"domain": ["MI only", "AO + MI（other hand）", "AO + MI（own hand）"], "range": ["#111111", "#2a3cf0", "#f01c1c"]}, "legend": {"orient": "none", "legendX": 166, "legendY": 229, "title": null, "symbolType": "stroke", "symbolSize": 729, "symbolStrokeWidth": 2, "labelFont": "Noto Sans CJK JP", "labelFontSize": 11, "labelOffset": 7, "rowPadding": -7}},
        "strokeDash": {"field": "series", "type": "nominal", "scale": {"domain": ["MI only", "AO + MI（other hand）", "AO + MI（own hand）"], "range": [[5, 3], [1, 0], [1, 0]]}, "legend": {"orient": "none", "legendX": 166, "legendY": 229, "title": null, "symbolType": "stroke", "symbolSize": 729, "symbolStrokeWidth": 2, "labelFont": "Noto Sans CJK JP", "labelFontSize": 11, "labelOffset": 7, "rowPadding": -7}}}},
      {"data": {"name": "phases"}, "transform": [{"filter": "datum.phase === 'Task 20 s'"}], "mark": {"type": "rule", "color": "#000", "strokeWidth": 2}, "encoding": {"x": {"field": "start", "type": "quantitative"}, "x2": {"field": "end"}, "y": {"datum": -0.1, "type": "quantitative"}}},
      {"data": {"name": "phases"}, "transform": [{"filter": "datum.phase === 'Rest 30 s'"}], "mark": {"type": "rule", "color": "#000", "strokeWidth": 1.5, "strokeDash": [3, 2]}, "encoding": {"x": {"field": "start", "type": "quantitative"}, "x2": {"field": "end"}, "y": {"datum": -0.1, "type": "quantitative"}}},
      {"data": {"name": "phases"}, "mark": {"type": "text", "text": "▶", "align": "right", "baseline": "middle", "fontSize": 8, "color": "#000"}, "encoding": {"x": {"field": "end", "type": "quantitative"}, "y": {"datum": -0.1, "type": "quantitative"}}},
      {"data": {"name": "phases"}, "mark": {"type": "text", "align": "left", "baseline": "bottom", "dx": 5, "dy": 0, "fontSize": 9, "color": "#000"}, "encoding": {"x": {"field": "start", "type": "quantitative"}, "y": {"datum": -0.1, "type": "quantitative"}, "text": {"field": "phase"}}}
    ]},
    {"width": 140, "height": 76, "layer": [
      {"data": {"name": "phases"}, "transform": [{"filter": "datum.phase === 'Task 20 s'"}], "mark": {"type": "rect", "color": "#d9d9d9"}, "encoding": {"x": {"field": "start", "type": "quantitative", "scale": {"domain": [0, 50], "nice": false, "zero": false}}, "x2": {"field": "end"}}},
      {"data": {"values": [{"level": 0}]}, "mark": {"type": "rule", "color": "#7f7f7f", "strokeWidth": 1.2}, "encoding": {"y": {"field": "level", "type": "quantitative"}}},
      {"data": {"name": "curves"}, "transform": [{"filter": "datum.panel === 'Pre-SMA'"}, {"lookup": "s", "from": {"data": {"name": "groups"}, "key": "s", "fields": ["series"]}}], "mark": {"type": "line", "interpolate": "monotone", "strokeWidth": 1.4},
       "encoding": {"x": {"field": "t", "type": "quantitative", "axis": {"labels": false, "ticks": false, "domain": false, "grid": false, "title": "Pre-SMA", "titleFontSize": 9.5, "titleFontWeight": "normal", "titlePadding": 9}},
        "y": {"field": "v", "type": "quantitative", "scale": {"domain": [-0.1, 0.1], "nice": false, "zero": false}, "axis": {"values": [-0.1, -0.05, 0, 0.05, 0.1], "tickCount": 5, "labelOverlap": false, "format": "~g", "labelFontSize": 6.5, "ticks": false, "labelPadding": 3, "grid": false, "domainColor": "#222", "title": "mM•mm", "titleFont": "Liberation Sans", "titleAngle": 0, "titleAlign": "left", "titleBaseline": "bottom", "titleX": -10, "titleY": -5, "titleFontSize": 4.2, "titleFontWeight": "normal"}},
        "color": {"field": "series", "type": "nominal", "scale": {"domain": ["MI only", "AO + MI（other hand）", "AO + MI（own hand）"], "range": ["#111111", "#2a3cf0", "#f01c1c"]}, "legend": {"orient": "none", "legendX": 166, "legendY": 229, "title": null, "symbolType": "stroke", "symbolSize": 729, "symbolStrokeWidth": 2, "labelFont": "Noto Sans CJK JP", "labelFontSize": 11, "labelOffset": 7, "rowPadding": -7}},
        "strokeDash": {"field": "series", "type": "nominal", "scale": {"domain": ["MI only", "AO + MI（other hand）", "AO + MI（own hand）"], "range": [[5, 3], [1, 0], [1, 0]]}, "legend": {"orient": "none", "legendX": 166, "legendY": 229, "title": null, "symbolType": "stroke", "symbolSize": 729, "symbolStrokeWidth": 2, "labelFont": "Noto Sans CJK JP", "labelFontSize": 11, "labelOffset": 7, "rowPadding": -7}}}},
      {"data": {"name": "phases"}, "transform": [{"filter": "datum.phase === 'Task 20 s'"}], "mark": {"type": "rule", "color": "#000", "strokeWidth": 2}, "encoding": {"x": {"field": "start", "type": "quantitative"}, "x2": {"field": "end"}, "y": {"datum": -0.1, "type": "quantitative"}}},
      {"data": {"name": "phases"}, "transform": [{"filter": "datum.phase === 'Rest 30 s'"}], "mark": {"type": "rule", "color": "#000", "strokeWidth": 1.5, "strokeDash": [3, 2]}, "encoding": {"x": {"field": "start", "type": "quantitative"}, "x2": {"field": "end"}, "y": {"datum": -0.1, "type": "quantitative"}}},
      {"data": {"name": "phases"}, "mark": {"type": "text", "text": "▶", "align": "right", "baseline": "middle", "fontSize": 8, "color": "#000"}, "encoding": {"x": {"field": "end", "type": "quantitative"}, "y": {"datum": -0.1, "type": "quantitative"}}},
      {"data": {"name": "phases"}, "mark": {"type": "text", "align": "left", "baseline": "bottom", "dx": 5, "dy": 0, "fontSize": 9, "color": "#000"}, "encoding": {"x": {"field": "start", "type": "quantitative"}, "y": {"datum": -0.1, "type": "quantitative"}, "text": {"field": "phase"}}}
    ]},
    {"width": 140, "height": 76, "layer": [
      {"data": {"name": "phases"}, "transform": [{"filter": "datum.phase === 'Task 20 s'"}], "mark": {"type": "rect", "color": "#d9d9d9"}, "encoding": {"x": {"field": "start", "type": "quantitative", "scale": {"domain": [0, 50], "nice": false, "zero": false}}, "x2": {"field": "end"}}},
      {"data": {"values": [{"level": 0}]}, "mark": {"type": "rule", "color": "#7f7f7f", "strokeWidth": 1.2}, "encoding": {"y": {"field": "level", "type": "quantitative"}}},
      {"data": {"name": "curves"}, "transform": [{"filter": "datum.panel === 'Right-PFC'"}, {"lookup": "s", "from": {"data": {"name": "groups"}, "key": "s", "fields": ["series"]}}], "mark": {"type": "line", "interpolate": "monotone", "strokeWidth": 1.4},
       "encoding": {"x": {"field": "t", "type": "quantitative", "axis": {"labels": false, "ticks": false, "domain": false, "grid": false, "title": "Right-PFC", "titleFontSize": 9.5, "titleFontWeight": "normal", "titlePadding": 9}},
        "y": {"field": "v", "type": "quantitative", "scale": {"domain": [-0.1, 0.1], "nice": false, "zero": false}, "axis": {"values": [-0.1, -0.05, 0, 0.05, 0.1], "tickCount": 5, "labelOverlap": false, "format": "~g", "labelFontSize": 6.5, "ticks": false, "labelPadding": 3, "grid": false, "domainColor": "#222", "title": "mM•mm", "titleFont": "Liberation Sans", "titleAngle": 0, "titleAlign": "left", "titleBaseline": "bottom", "titleX": -10, "titleY": -5, "titleFontSize": 4.2, "titleFontWeight": "normal"}},
        "color": {"field": "series", "type": "nominal", "scale": {"domain": ["MI only", "AO + MI（other hand）", "AO + MI（own hand）"], "range": ["#111111", "#2a3cf0", "#f01c1c"]}, "legend": {"orient": "none", "legendX": 166, "legendY": 229, "title": null, "symbolType": "stroke", "symbolSize": 729, "symbolStrokeWidth": 2, "labelFont": "Noto Sans CJK JP", "labelFontSize": 11, "labelOffset": 7, "rowPadding": -7}},
        "strokeDash": {"field": "series", "type": "nominal", "scale": {"domain": ["MI only", "AO + MI（other hand）", "AO + MI（own hand）"], "range": [[5, 3], [1, 0], [1, 0]]}, "legend": {"orient": "none", "legendX": 166, "legendY": 229, "title": null, "symbolType": "stroke", "symbolSize": 729, "symbolStrokeWidth": 2, "labelFont": "Noto Sans CJK JP", "labelFontSize": 11, "labelOffset": 7, "rowPadding": -7}}}},
      {"data": {"name": "phases"}, "transform": [{"filter": "datum.phase === 'Task 20 s'"}], "mark": {"type": "rule", "color": "#000", "strokeWidth": 2}, "encoding": {"x": {"field": "start", "type": "quantitative"}, "x2": {"field": "end"}, "y": {"datum": -0.1, "type": "quantitative"}}},
      {"data": {"name": "phases"}, "transform": [{"filter": "datum.phase === 'Rest 30 s'"}], "mark": {"type": "rule", "color": "#000", "strokeWidth": 1.5, "strokeDash": [3, 2]}, "encoding": {"x": {"field": "start", "type": "quantitative"}, "x2": {"field": "end"}, "y": {"datum": -0.1, "type": "quantitative"}}},
      {"data": {"name": "phases"}, "mark": {"type": "text", "text": "▶", "align": "right", "baseline": "middle", "fontSize": 8, "color": "#000"}, "encoding": {"x": {"field": "end", "type": "quantitative"}, "y": {"datum": -0.1, "type": "quantitative"}}},
      {"data": {"name": "phases"}, "mark": {"type": "text", "align": "left", "baseline": "bottom", "dx": 5, "dy": 0, "fontSize": 9, "color": "#000"}, "encoding": {"x": {"field": "start", "type": "quantitative"}, "y": {"datum": -0.1, "type": "quantitative"}, "text": {"field": "phase"}}}
    ]},
    {"width": 200, "height": 76, "data": {"name": "caption"}, "layer": [
      {"transform": [{"filter": "datum.line <= 3"}], "mark": {"type": "text", "align": "left", "baseline": "middle", "font": "Lato", "fontSize": 11, "fontWeight": "bold", "dx": 0, "color": "#231f20"},
       "encoding": {"x": {"datum": 0, "type": "quantitative", "scale": {"domain": [0, 1]}, "axis": null}, "y": {"field": "line", "type": "quantitative", "scale": {"domain": [1.729, 7.443], "reverse": true, "nice": false, "zero": false}, "axis": null}, "text": {"field": "text"}}},
      {"transform": [{"filter": "datum.line > 3"}], "mark": {"type": "text", "align": "left", "baseline": "middle", "font": "Lato", "fontSize": 11, "dx": 0, "color": "#231f20"},
       "encoding": {"x": {"datum": 0, "type": "quantitative", "axis": null}, "y": {"field": "line", "type": "quantitative", "axis": null}, "text": {"field": "text"}}}
    ]},
    {"width": 140, "height": 76, "layer": [
      {"data": {"name": "phases"}, "transform": [{"filter": "datum.phase === 'Task 20 s'"}], "mark": {"type": "rect", "color": "#d9d9d9"}, "encoding": {"x": {"field": "start", "type": "quantitative", "scale": {"domain": [0, 50], "nice": false, "zero": false}}, "x2": {"field": "end"}}},
      {"data": {"values": [{"level": 0}]}, "mark": {"type": "rule", "color": "#7f7f7f", "strokeWidth": 1.2}, "encoding": {"y": {"field": "level", "type": "quantitative"}}},
      {"data": {"name": "curves"}, "transform": [{"filter": "datum.panel === 'Left-PMA'"}, {"lookup": "s", "from": {"data": {"name": "groups"}, "key": "s", "fields": ["series"]}}], "mark": {"type": "line", "interpolate": "monotone", "strokeWidth": 1.4},
       "encoding": {"x": {"field": "t", "type": "quantitative", "axis": {"labels": false, "ticks": false, "domain": false, "grid": false, "title": "Left-PMA", "titleFontSize": 9.5, "titleFontWeight": "normal", "titlePadding": 9}},
        "y": {"field": "v", "type": "quantitative", "scale": {"domain": [-0.1, 0.1], "nice": false, "zero": false}, "axis": {"values": [-0.1, -0.05, 0, 0.05, 0.1], "tickCount": 5, "labelOverlap": false, "format": "~g", "labelFontSize": 6.5, "ticks": false, "labelPadding": 3, "grid": false, "domainColor": "#222", "title": "mM•mm", "titleFont": "Liberation Sans", "titleAngle": 0, "titleAlign": "left", "titleBaseline": "bottom", "titleX": -10, "titleY": -5, "titleFontSize": 4.2, "titleFontWeight": "normal"}},
        "color": {"field": "series", "type": "nominal", "scale": {"domain": ["MI only", "AO + MI（other hand）", "AO + MI（own hand）"], "range": ["#111111", "#2a3cf0", "#f01c1c"]}, "legend": {"orient": "none", "legendX": 166, "legendY": 229, "title": null, "symbolType": "stroke", "symbolSize": 729, "symbolStrokeWidth": 2, "labelFont": "Noto Sans CJK JP", "labelFontSize": 11, "labelOffset": 7, "rowPadding": -7}},
        "strokeDash": {"field": "series", "type": "nominal", "scale": {"domain": ["MI only", "AO + MI（other hand）", "AO + MI（own hand）"], "range": [[5, 3], [1, 0], [1, 0]]}, "legend": {"orient": "none", "legendX": 166, "legendY": 229, "title": null, "symbolType": "stroke", "symbolSize": 729, "symbolStrokeWidth": 2, "labelFont": "Noto Sans CJK JP", "labelFontSize": 11, "labelOffset": 7, "rowPadding": -7}}}},
      {"data": {"name": "phases"}, "transform": [{"filter": "datum.phase === 'Task 20 s'"}], "mark": {"type": "rule", "color": "#000", "strokeWidth": 2}, "encoding": {"x": {"field": "start", "type": "quantitative"}, "x2": {"field": "end"}, "y": {"datum": -0.1, "type": "quantitative"}}},
      {"data": {"name": "phases"}, "transform": [{"filter": "datum.phase === 'Rest 30 s'"}], "mark": {"type": "rule", "color": "#000", "strokeWidth": 1.5, "strokeDash": [3, 2]}, "encoding": {"x": {"field": "start", "type": "quantitative"}, "x2": {"field": "end"}, "y": {"datum": -0.1, "type": "quantitative"}}},
      {"data": {"name": "phases"}, "mark": {"type": "text", "text": "▶", "align": "right", "baseline": "middle", "fontSize": 8, "color": "#000"}, "encoding": {"x": {"field": "end", "type": "quantitative"}, "y": {"datum": -0.1, "type": "quantitative"}}},
      {"data": {"name": "phases"}, "mark": {"type": "text", "align": "left", "baseline": "bottom", "dx": 5, "dy": 0, "fontSize": 9, "color": "#000"}, "encoding": {"x": {"field": "start", "type": "quantitative"}, "y": {"datum": -0.1, "type": "quantitative"}, "text": {"field": "phase"}}}
    ]},
    {"width": 140, "height": 76, "layer": [
      {"data": {"name": "phases"}, "transform": [{"filter": "datum.phase === 'Task 20 s'"}], "mark": {"type": "rect", "color": "#d9d9d9"}, "encoding": {"x": {"field": "start", "type": "quantitative", "scale": {"domain": [0, 50], "nice": false, "zero": false}}, "x2": {"field": "end"}}},
      {"data": {"values": [{"level": 0}]}, "mark": {"type": "rule", "color": "#7f7f7f", "strokeWidth": 1.2}, "encoding": {"y": {"field": "level", "type": "quantitative"}}},
      {"data": {"name": "curves"}, "transform": [{"filter": "datum.panel === 'SMA'"}, {"lookup": "s", "from": {"data": {"name": "groups"}, "key": "s", "fields": ["series"]}}], "mark": {"type": "line", "interpolate": "monotone", "strokeWidth": 1.4},
       "encoding": {"x": {"field": "t", "type": "quantitative", "axis": {"labels": false, "ticks": false, "domain": false, "grid": false, "title": "SMA", "titleFontSize": 9.5, "titleFontWeight": "normal", "titlePadding": 9}},
        "y": {"field": "v", "type": "quantitative", "scale": {"domain": [-0.1, 0.1], "nice": false, "zero": false}, "axis": {"values": [-0.1, -0.05, 0, 0.05, 0.1], "tickCount": 5, "labelOverlap": false, "format": "~g", "labelFontSize": 6.5, "ticks": false, "labelPadding": 3, "grid": false, "domainColor": "#222", "title": "mM•mm", "titleFont": "Liberation Sans", "titleAngle": 0, "titleAlign": "left", "titleBaseline": "bottom", "titleX": -10, "titleY": -5, "titleFontSize": 4.2, "titleFontWeight": "normal"}},
        "color": {"field": "series", "type": "nominal", "scale": {"domain": ["MI only", "AO + MI（other hand）", "AO + MI（own hand）"], "range": ["#111111", "#2a3cf0", "#f01c1c"]}, "legend": {"orient": "none", "legendX": 166, "legendY": 229, "title": null, "symbolType": "stroke", "symbolSize": 729, "symbolStrokeWidth": 2, "labelFont": "Noto Sans CJK JP", "labelFontSize": 11, "labelOffset": 7, "rowPadding": -7}},
        "strokeDash": {"field": "series", "type": "nominal", "scale": {"domain": ["MI only", "AO + MI（other hand）", "AO + MI（own hand）"], "range": [[5, 3], [1, 0], [1, 0]]}, "legend": {"orient": "none", "legendX": 166, "legendY": 229, "title": null, "symbolType": "stroke", "symbolSize": 729, "symbolStrokeWidth": 2, "labelFont": "Noto Sans CJK JP", "labelFontSize": 11, "labelOffset": 7, "rowPadding": -7}}}},
      {"data": {"name": "phases"}, "transform": [{"filter": "datum.phase === 'Task 20 s'"}], "mark": {"type": "rule", "color": "#000", "strokeWidth": 2}, "encoding": {"x": {"field": "start", "type": "quantitative"}, "x2": {"field": "end"}, "y": {"datum": -0.1, "type": "quantitative"}}},
      {"data": {"name": "phases"}, "transform": [{"filter": "datum.phase === 'Rest 30 s'"}], "mark": {"type": "rule", "color": "#000", "strokeWidth": 1.5, "strokeDash": [3, 2]}, "encoding": {"x": {"field": "start", "type": "quantitative"}, "x2": {"field": "end"}, "y": {"datum": -0.1, "type": "quantitative"}}},
      {"data": {"name": "phases"}, "mark": {"type": "text", "text": "▶", "align": "right", "baseline": "middle", "fontSize": 8, "color": "#000"}, "encoding": {"x": {"field": "end", "type": "quantitative"}, "y": {"datum": -0.1, "type": "quantitative"}}},
      {"data": {"name": "phases"}, "mark": {"type": "text", "align": "left", "baseline": "bottom", "dx": 5, "dy": 0, "fontSize": 9, "color": "#000"}, "encoding": {"x": {"field": "start", "type": "quantitative"}, "y": {"datum": -0.1, "type": "quantitative"}, "text": {"field": "phase"}}}
    ]},
    {"width": 140, "height": 76, "layer": [
      {"data": {"name": "phases"}, "transform": [{"filter": "datum.phase === 'Task 20 s'"}], "mark": {"type": "rect", "color": "#d9d9d9"}, "encoding": {"x": {"field": "start", "type": "quantitative", "scale": {"domain": [0, 50], "nice": false, "zero": false}}, "x2": {"field": "end"}}},
      {"data": {"values": [{"level": 0}]}, "mark": {"type": "rule", "color": "#7f7f7f", "strokeWidth": 1.2}, "encoding": {"y": {"field": "level", "type": "quantitative"}}},
      {"data": {"name": "curves"}, "transform": [{"filter": "datum.panel === 'Right-PMA'"}, {"lookup": "s", "from": {"data": {"name": "groups"}, "key": "s", "fields": ["series"]}}], "mark": {"type": "line", "interpolate": "monotone", "strokeWidth": 1.4},
       "encoding": {"x": {"field": "t", "type": "quantitative", "axis": {"labels": false, "ticks": false, "domain": false, "grid": false, "title": "Right-PMA", "titleFontSize": 9.5, "titleFontWeight": "normal", "titlePadding": 9}},
        "y": {"field": "v", "type": "quantitative", "scale": {"domain": [-0.1, 0.1], "nice": false, "zero": false}, "axis": {"values": [-0.1, -0.05, 0, 0.05, 0.1], "tickCount": 5, "labelOverlap": false, "format": "~g", "labelFontSize": 6.5, "ticks": false, "labelPadding": 3, "grid": false, "domainColor": "#222", "title": "mM•mm", "titleFont": "Liberation Sans", "titleAngle": 0, "titleAlign": "left", "titleBaseline": "bottom", "titleX": -10, "titleY": -5, "titleFontSize": 4.2, "titleFontWeight": "normal"}},
        "color": {"field": "series", "type": "nominal", "scale": {"domain": ["MI only", "AO + MI（other hand）", "AO + MI（own hand）"], "range": ["#111111", "#2a3cf0", "#f01c1c"]}, "legend": {"orient": "none", "legendX": 166, "legendY": 229, "title": null, "symbolType": "stroke", "symbolSize": 729, "symbolStrokeWidth": 2, "labelFont": "Noto Sans CJK JP", "labelFontSize": 11, "labelOffset": 7, "rowPadding": -7}},
        "strokeDash": {"field": "series", "type": "nominal", "scale": {"domain": ["MI only", "AO + MI（other hand）", "AO + MI（own hand）"], "range": [[5, 3], [1, 0], [1, 0]]}, "legend": {"orient": "none", "legendX": 166, "legendY": 229, "title": null, "symbolType": "stroke", "symbolSize": 729, "symbolStrokeWidth": 2, "labelFont": "Noto Sans CJK JP", "labelFontSize": 11, "labelOffset": 7, "rowPadding": -7}}}},
      {"data": {"name": "phases"}, "transform": [{"filter": "datum.phase === 'Task 20 s'"}], "mark": {"type": "rule", "color": "#000", "strokeWidth": 2}, "encoding": {"x": {"field": "start", "type": "quantitative"}, "x2": {"field": "end"}, "y": {"datum": -0.1, "type": "quantitative"}}},
      {"data": {"name": "phases"}, "transform": [{"filter": "datum.phase === 'Rest 30 s'"}], "mark": {"type": "rule", "color": "#000", "strokeWidth": 1.5, "strokeDash": [3, 2]}, "encoding": {"x": {"field": "start", "type": "quantitative"}, "x2": {"field": "end"}, "y": {"datum": -0.1, "type": "quantitative"}}},
      {"data": {"name": "phases"}, "mark": {"type": "text", "text": "▶", "align": "right", "baseline": "middle", "fontSize": 8, "color": "#000"}, "encoding": {"x": {"field": "end", "type": "quantitative"}, "y": {"datum": -0.1, "type": "quantitative"}}},
      {"data": {"name": "phases"}, "mark": {"type": "text", "align": "left", "baseline": "bottom", "dx": 5, "dy": 0, "fontSize": 9, "color": "#000"}, "encoding": {"x": {"field": "start", "type": "quantitative"}, "y": {"datum": -0.1, "type": "quantitative"}, "text": {"field": "phase"}}}
    ]},
    {"width": 10, "height": 76, "data": {"values": []}, "mark": "point"},
    {"width": 140, "height": 76, "layer": [
      {"data": {"name": "phases"}, "transform": [{"filter": "datum.phase === 'Task 20 s'"}], "mark": {"type": "rect", "color": "#d9d9d9"}, "encoding": {"x": {"field": "start", "type": "quantitative", "scale": {"domain": [0, 50], "nice": false, "zero": false}}, "x2": {"field": "end"}}},
      {"data": {"values": [{"level": 0}]}, "mark": {"type": "rule", "color": "#7f7f7f", "strokeWidth": 1.2}, "encoding": {"y": {"field": "level", "type": "quantitative"}}},
      {"data": {"name": "curves"}, "transform": [{"filter": "datum.panel === 'Left-SMC'"}, {"lookup": "s", "from": {"data": {"name": "groups"}, "key": "s", "fields": ["series"]}}], "mark": {"type": "line", "interpolate": "monotone", "strokeWidth": 1.4},
       "encoding": {"x": {"field": "t", "type": "quantitative", "axis": {"labels": false, "ticks": false, "domain": false, "grid": false, "title": "Left-SMC", "titleFontSize": 9.5, "titleFontWeight": "normal", "titlePadding": 9}},
        "y": {"field": "v", "type": "quantitative", "scale": {"domain": [-0.1, 0.1], "nice": false, "zero": false}, "axis": {"values": [-0.1, -0.05, 0, 0.05, 0.1], "tickCount": 5, "labelOverlap": false, "format": "~g", "labelFontSize": 6.5, "ticks": false, "labelPadding": 3, "grid": false, "domainColor": "#222", "title": "mM•mm", "titleFont": "Liberation Sans", "titleAngle": 0, "titleAlign": "left", "titleBaseline": "bottom", "titleX": -10, "titleY": -5, "titleFontSize": 4.2, "titleFontWeight": "normal"}},
        "color": {"field": "series", "type": "nominal", "scale": {"domain": ["MI only", "AO + MI（other hand）", "AO + MI（own hand）"], "range": ["#111111", "#2a3cf0", "#f01c1c"]}, "legend": {"orient": "none", "legendX": 166, "legendY": 229, "title": null, "symbolType": "stroke", "symbolSize": 729, "symbolStrokeWidth": 2, "labelFont": "Noto Sans CJK JP", "labelFontSize": 11, "labelOffset": 7, "rowPadding": -7}},
        "strokeDash": {"field": "series", "type": "nominal", "scale": {"domain": ["MI only", "AO + MI（other hand）", "AO + MI（own hand）"], "range": [[5, 3], [1, 0], [1, 0]]}, "legend": {"orient": "none", "legendX": 166, "legendY": 229, "title": null, "symbolType": "stroke", "symbolSize": 729, "symbolStrokeWidth": 2, "labelFont": "Noto Sans CJK JP", "labelFontSize": 11, "labelOffset": 7, "rowPadding": -7}}}},
      {"data": {"name": "phases"}, "transform": [{"filter": "datum.phase === 'Task 20 s'"}], "mark": {"type": "rule", "color": "#000", "strokeWidth": 2}, "encoding": {"x": {"field": "start", "type": "quantitative"}, "x2": {"field": "end"}, "y": {"datum": -0.1, "type": "quantitative"}}},
      {"data": {"name": "phases"}, "transform": [{"filter": "datum.phase === 'Rest 30 s'"}], "mark": {"type": "rule", "color": "#000", "strokeWidth": 1.5, "strokeDash": [3, 2]}, "encoding": {"x": {"field": "start", "type": "quantitative"}, "x2": {"field": "end"}, "y": {"datum": -0.1, "type": "quantitative"}}},
      {"data": {"name": "phases"}, "mark": {"type": "text", "text": "▶", "align": "right", "baseline": "middle", "fontSize": 8, "color": "#000"}, "encoding": {"x": {"field": "end", "type": "quantitative"}, "y": {"datum": -0.1, "type": "quantitative"}}},
      {"data": {"name": "phases"}, "mark": {"type": "text", "align": "left", "baseline": "bottom", "dx": 5, "dy": 0, "fontSize": 9, "color": "#000"}, "encoding": {"x": {"field": "start", "type": "quantitative"}, "y": {"datum": -0.1, "type": "quantitative"}, "text": {"field": "phase"}}}
    ]},
    {"width": 140, "height": 76, "data": {"values": []}, "mark": "point"},
    {"width": 140, "height": 76, "layer": [
      {"data": {"name": "phases"}, "transform": [{"filter": "datum.phase === 'Task 20 s'"}], "mark": {"type": "rect", "color": "#d9d9d9"}, "encoding": {"x": {"field": "start", "type": "quantitative", "scale": {"domain": [0, 50], "nice": false, "zero": false}}, "x2": {"field": "end"}}},
      {"data": {"values": [{"level": 0}]}, "mark": {"type": "rule", "color": "#7f7f7f", "strokeWidth": 1.2}, "encoding": {"y": {"field": "level", "type": "quantitative"}}},
      {"data": {"name": "curves"}, "transform": [{"filter": "datum.panel === 'Right-SMC'"}, {"lookup": "s", "from": {"data": {"name": "groups"}, "key": "s", "fields": ["series"]}}], "mark": {"type": "line", "interpolate": "monotone", "strokeWidth": 1.4},
       "encoding": {"x": {"field": "t", "type": "quantitative", "axis": {"labels": false, "ticks": false, "domain": false, "grid": false, "title": "Right-SMC", "titleFontSize": 9.5, "titleFontWeight": "normal", "titlePadding": 9}},
        "y": {"field": "v", "type": "quantitative", "scale": {"domain": [-0.1, 0.1], "nice": false, "zero": false}, "axis": {"values": [-0.1, -0.05, 0, 0.05, 0.1], "tickCount": 5, "labelOverlap": false, "format": "~g", "labelFontSize": 6.5, "ticks": false, "labelPadding": 3, "grid": false, "domainColor": "#222", "title": "mM•mm", "titleFont": "Liberation Sans", "titleAngle": 0, "titleAlign": "left", "titleBaseline": "bottom", "titleX": -10, "titleY": -5, "titleFontSize": 4.2, "titleFontWeight": "normal"}},
        "color": {"field": "series", "type": "nominal", "scale": {"domain": ["MI only", "AO + MI（other hand）", "AO + MI（own hand）"], "range": ["#111111", "#2a3cf0", "#f01c1c"]}, "legend": {"orient": "none", "legendX": 166, "legendY": 229, "title": null, "symbolType": "stroke", "symbolSize": 729, "symbolStrokeWidth": 2, "labelFont": "Noto Sans CJK JP", "labelFontSize": 11, "labelOffset": 7, "rowPadding": -7}},
        "strokeDash": {"field": "series", "type": "nominal", "scale": {"domain": ["MI only", "AO + MI（other hand）", "AO + MI（own hand）"], "range": [[5, 3], [1, 0], [1, 0]]}, "legend": {"orient": "none", "legendX": 166, "legendY": 229, "title": null, "symbolType": "stroke", "symbolSize": 729, "symbolStrokeWidth": 2, "labelFont": "Noto Sans CJK JP", "labelFontSize": 11, "labelOffset": 7, "rowPadding": -7}}}},
      {"data": {"name": "phases"}, "transform": [{"filter": "datum.phase === 'Task 20 s'"}], "mark": {"type": "rule", "color": "#000", "strokeWidth": 2}, "encoding": {"x": {"field": "start", "type": "quantitative"}, "x2": {"field": "end"}, "y": {"datum": -0.1, "type": "quantitative"}}},
      {"data": {"name": "phases"}, "transform": [{"filter": "datum.phase === 'Rest 30 s'"}], "mark": {"type": "rule", "color": "#000", "strokeWidth": 1.5, "strokeDash": [3, 2]}, "encoding": {"x": {"field": "start", "type": "quantitative"}, "x2": {"field": "end"}, "y": {"datum": -0.1, "type": "quantitative"}}},
      {"data": {"name": "phases"}, "mark": {"type": "text", "text": "▶", "align": "right", "baseline": "middle", "fontSize": 8, "color": "#000"}, "encoding": {"x": {"field": "end", "type": "quantitative"}, "y": {"datum": -0.1, "type": "quantitative"}}},
      {"data": {"name": "phases"}, "mark": {"type": "text", "align": "left", "baseline": "bottom", "dx": 5, "dy": 0, "fontSize": 9, "color": "#000"}, "encoding": {"x": {"field": "start", "type": "quantitative"}, "y": {"datum": -0.1, "type": "quantitative"}, "text": {"field": "phase"}}}
    ]}
  ]
}
